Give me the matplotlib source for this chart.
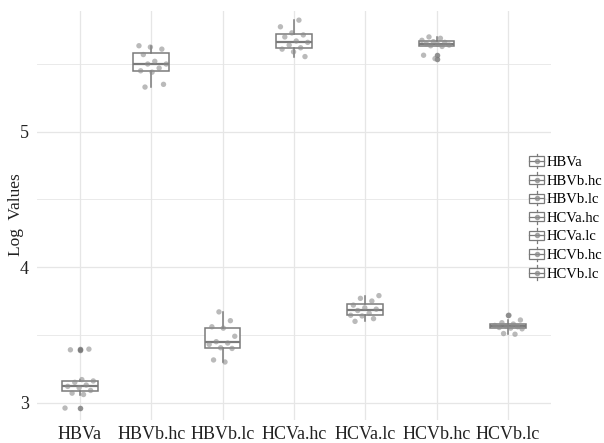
import numpy as np
import matplotlib
matplotlib.use("Agg")
import matplotlib.pyplot as plt
from matplotlib.legend_handler import HandlerBase
from matplotlib.patches import Rectangle
from matplotlib.lines import Line2D

plt.rcParams['font.family'] = ['Liberation Serif', 'DejaVu Serif']

# log values per group
groups = ['HBVa', 'HBVb.hc', 'HBVb.lc', 'HCVa.hc', 'HCVa.lc', 'HCVb.hc', 'HCVb.lc']
hbva = [2.96, 3.06, 3.07, 3.09, 3.11, 3.12, 3.13, 3.15, 3.16, 3.17, 3.39, 3.395]
hbvb_hc = [5.33, 5.35, 5.44, 5.45, 5.47, 5.50, 5.50, 5.52, 5.57, 5.61, 5.625, 5.635]
hbvb_lc = [3.30, 3.315, 3.40, 3.405, 3.43, 3.44, 3.45, 3.49, 3.55, 3.56, 3.605, 3.67]
hcva_hc = [5.555, 5.59, 5.61, 5.62, 5.64, 5.66, 5.67, 5.70, 5.715, 5.73, 5.775, 5.824]
hcva_lc = [3.60, 3.62, 3.64, 3.645, 3.66, 3.68, 3.69, 3.70, 3.72, 3.75, 3.77, 3.79]
hcvb_hc = [5.54, 5.565, 5.63, 5.635, 5.64, 5.645, 5.65, 5.66, 5.665, 5.675, 5.69, 5.70]
hcvb_lc = [3.505, 3.51, 3.545, 3.55, 3.555, 3.56, 3.565, 3.57, 3.58, 3.59, 3.61, 3.645]
values = [hbva, hbvb_hc, hbvb_lc, hcva_hc, hcva_lc, hcvb_hc, hcvb_lc]

box_col = '#7a7a7a'
pt_col = '#8c8c8c'
grid_col = '#e6e6e6'


class BoxHandler(HandlerBase):
    # small boxplot glyph like ggplot's legend key
    def create_artists(self, legend, orig_handle, xdescent, ydescent,
                       width, height, fontsize, trans):
        x0, y0 = -xdescent, -ydescent
        cx = x0 + width / 2
        arts = [
            Rectangle((x0, y0 + 0.15 * height), width, 0.7 * height,
                      facecolor='white', edgecolor=box_col, lw=0.9, transform=trans),
            Line2D([x0, x0 + width], [y0 + 0.5 * height] * 2, color=box_col, lw=0.9, transform=trans),
            Line2D([cx, cx], [y0 - 0.05 * height, y0 + 0.15 * height], color=box_col, lw=0.9, transform=trans),
            Line2D([cx, cx], [y0 + 0.85 * height, y0 + 1.05 * height], color=box_col, lw=0.9, transform=trans),
            Line2D([cx], [y0 + 0.5 * height], marker='o', ms=3, color=pt_col, alpha=0.7,
                   lw=0, transform=trans),
        ]
        return arts


fig = plt.figure(figsize=(6.04, 4.43), dpi=100)
ax = fig.add_axes([0.0616, 0.052, 0.850, 0.923])

pos = np.arange(1, len(groups) + 1)
bp = ax.boxplot(values, positions=pos, widths=0.5, patch_artist=True,
                showcaps=False, zorder=2,
                boxprops=dict(facecolor='white', edgecolor=box_col, lw=1.1),
                medianprops=dict(color=box_col, lw=1.6),
                whiskerprops=dict(color=box_col, lw=1.1),
                flierprops=dict(marker='o', markersize=4, markerfacecolor='#777777',
                                markeredgecolor='none', alpha=0.8))

for i, v in enumerate(values):
    n = len(v)
    jit = ((np.arange(n) * 0.618 + i * 0.29) % 1 - 0.5) * 0.42
    ax.scatter(pos[i] + jit, v, s=15, color=pt_col, alpha=0.6, edgecolors='none', zorder=3)

ax.set_xlim(0.4, 7.6)
ax.set_ylim(2.872, 5.891)
ax.set_xticks(pos)
ax.set_xticklabels(groups, fontsize=13)
ax.set_yticks([3, 4, 5])
ax.set_yticks([3.5, 4.5, 5.5], minor=True)
ax.tick_params(axis='both', which='both', length=0, labelsize=13, colors='#222222')
ax.tick_params(axis='x', pad=4)
ax.tick_params(axis='y', pad=6)
ax.grid(True, which='major', color=grid_col, lw=0.9, zorder=0)
ax.grid(True, which='minor', axis='y', color=grid_col, lw=0.6, zorder=0)
ax.set_axisbelow(True)
for s in ax.spines.values():
    s.set_visible(False)
fig.text(16 / 604, 1 - 215 / 443, 'Log  Values', rotation=90, ha='center', va='center',
         fontsize=12.5, color='#222222')

handles = [Rectangle((0, 0), 1, 1) for _ in groups]
fig.legend(handles, groups, handler_map={Rectangle: BoxHandler()},
           loc='center left', bbox_to_anchor=(0.876, 0.509), frameon=False,
           fontsize=10.5, handlelength=1.05, handleheight=1.0,
           handletextpad=0.15, labelspacing=0.28, borderpad=0, borderaxespad=0)

fig.savefig('out.png', dpi=100)
